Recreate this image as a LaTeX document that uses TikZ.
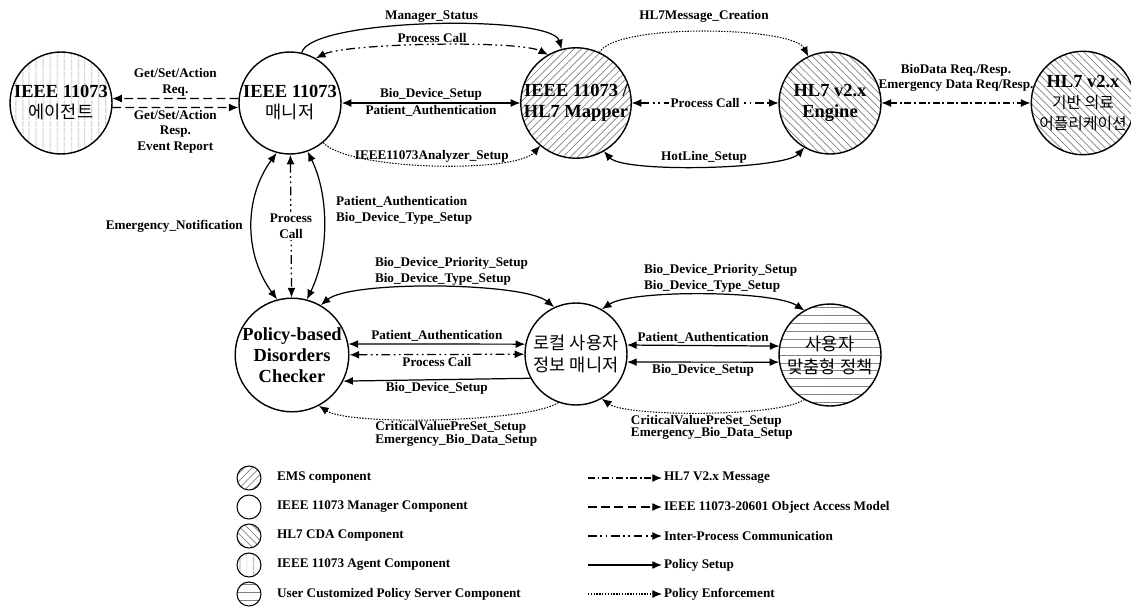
\documentclass[tikz,border=0pt]{standalone}
\usepackage{fontspec}
\setmainfont{Liberation Serif}
\newfontfamily\kr{Noto Sans CJK KR}
\usetikzlibrary{arrows.meta,patterns.meta}

\tikzset{
    comp/.style={draw, circle, line width=0.8pt, minimum size=2.04cm, inner sep=0pt, align=center, font=\bfseries\fontsize{10.5}{12}\selectfont},
    ems/.style={comp, pattern={Lines[angle=45,distance=3pt,line width=0.4pt]}, pattern color=gray},
    cda/.style={comp, pattern={Lines[angle=-45,distance=3pt,line width=0.4pt]}, pattern color=gray},
    agentpat/.style={comp, pattern={Lines[angle=90,distance=4pt,line width=0.4pt]}, pattern color=gray},
    userpat/.style={comp, pattern={Lines[angle=0,distance=4.5pt,line width=0.4pt]}, pattern color=gray},
    krtext/.style={font=\kr\fontsize{10}{13}\selectfont},
    lgd/.style={minimum size=0.48cm, line width=0.6pt},
    lbl/.style={font=\bfseries\fontsize{7.5}{9}\selectfont, inner sep=1pt, align=center},
    lbltight/.style={font=\bfseries\fontsize{7.5}{7.2}\selectfont, inner sep=1pt, align=left},
    onehead/.style={-{Latex[length=5.5pt,width=4.5pt]}},
    twohead/.style={{Latex[length=5.5pt,width=4.5pt]}-{Latex[length=5.5pt,width=4.5pt]}},
    setupline/.style={line width=0.7pt},
    oam/.style={line width=0.7pt, dash pattern=on 5pt off 2.5pt},
    hlmsg/.style={line width=0.7pt, dash pattern=on 4pt off 1.5pt on 1pt off 1.5pt},
    ipc/.style={line width=0.7pt, dash pattern=on 5pt off 2pt on 1pt off 2pt on 1pt off 2pt},
    enforce/.style={line width=0.6pt, dash pattern=on 0.8pt off 0.8pt}
}

\begin{document}
\begin{tikzpicture}[x=0.02cm, y=-0.02cm]
    \useasboundingbox (0,0) rectangle (1131,608);

    % Top row of components
    \node[agentpat] (agent) at (61,103) {IEEE 11073\\{\kr\mdseries\fontsize{10}{12}\selectfont 에이전트}};
    \node[comp] (mgr) at (290,103) {IEEE 11073\\{\kr\mdseries\fontsize{10}{12}\selectfont 매니저}};
    \node[ems] (mapper) at (576,103) {IEEE 11073 /\\HL7 Mapper};
    \node[cda] (engine) at (830,103) {HL7 v2.x\\Engine};
    \node[cda] (app) at (1083,103) {HL7 v2.x\\{\kr\mdseries\fontsize{9}{10.5}\selectfont 기반 의료}\\{\kr\mdseries\fontsize{9}{10.5}\selectfont 어플리케이션}};

    % Bottom row of components
    \node[comp] (checker) at (292,355) {Policy-based\\Disorders\\Checker};
    \node[comp, krtext] (local) at (576,354) {로컬 사용자\\정보 매니저};
    \node[userpat, krtext] (policy) at (830,355) {사용자\\맞춤형 정책};

    % Agent <-> manager
    \draw[oam, onehead] (mgr.175) -- node[lbl, above] {Get/Set/Action\\Req.} (agent.5);
    \draw[oam, onehead] (agent.-5) -- node[lbl, below] {Get/Set/Action\\Resp.\\Event Report} (mgr.185);

    % Manager <-> mapper
    \draw[setupline, onehead] (mgr.77) .. controls +(10,-35) and +(-10,-35) .. node[lbl, above] {Manager\_Status} (mapper.105);
    \draw[ipc, twohead] (mgr.60) .. controls +(30,-15) and +(-30,-15) .. node[lbl, above] {Process Call} (mapper.120);
    \draw[setupline, twohead] (mgr) -- node[lbl, above] {Bio\_Device\_Setup} node[lbl, below] {Patient\_Authentication} (mapper);
    \draw[enforce, onehead] (mgr.-50) .. controls +(25,28) and +(-25,28) .. node[lbl, above] {IEEE11073Analyzer\_Setup} (mapper.-130);

    % Mapper <-> engine
    \draw[enforce, onehead] (mapper.65) .. controls +(15,-30) and +(-15,-30) .. node[lbl, above=4pt] {HL7Message\_Creation} (engine.115);
    \draw[ipc, twohead] (mapper) -- node[lbl, fill=white] {Process Call} (engine);
    \draw[setupline, twohead] (mapper.-60) .. controls +(20,22) and +(-20,22) .. node[lbl, above] {HotLine\_Setup} (engine.-120);

    % Engine <-> application
    \draw[hlmsg, twohead] (engine) -- node[lbl, above=5pt] {BioData Req./Resp.\\Emergency Data Req/Resp.} (app);

    % Manager <-> checker
    \draw[setupline, twohead] (mgr.-105) .. controls +(-33,45) and +(-33,-45) .. node[lbl, left=4pt] {Emergency\_Notification} (checker.105);
    \draw[ipc, twohead] (mgr) -- node[lbl, fill=white] {Process\\Call} (checker);
    \draw[setupline, twohead] (mgr.-70) .. controls +(22,45) and +(22,-45) .. node[lbl, pos=0.4, right=6pt, align=left] {Patient\_Authentication\\Bio\_Device\_Type\_Setup} (checker.75);

    % Checker <-> local manager
    \draw[setupline, twohead] (checker.60) .. controls +(30,-25) and +(-30,-25) .. node[lbl, above, align=left, xshift=8pt] {Bio\_Device\_Priority\_Setup\\Bio\_Device\_Type\_Setup} (local.115);
    \draw[setupline, twohead] (checker.11) -- node[lbl, above] {Patient\_Authentication} (local.169);
    \draw[ipc, twohead] (checker) -- node[lbl, below] {Process Call} (local);
    \draw[setupline, onehead] (local.-152) -- node[lbl, below] {Bio\_Device\_Setup} (checker.-27);
    \draw[enforce, onehead] (local.-110) .. controls +(-30,20) and +(30,20) .. node[lbltight, below, xshift=10pt] {CriticalValuePreSet\_Setup\\Emergency\_Bio\_Data\_Setup} (checker.-62);

    % Local manager <-> user policy
    \draw[setupline, twohead] (local.60) .. controls +(30,-20) and +(-30,-20) .. node[lbl, above, align=left, xshift=10pt] {Bio\_Device\_Priority\_Setup\\Bio\_Device\_Type\_Setup} (policy.120);
    \draw[setupline, twohead] (local.10) -- node[lbl, above] {Patient\_Authentication} (policy.170);
    \draw[setupline, twohead] (local.-9) -- node[lbl, below] {Bio\_Device\_Setup} (policy.188);
    \draw[enforce, onehead] (policy.-120) .. controls +(-25,18) and +(25,18) .. node[lbltight, below, xshift=5pt] {CriticalValuePreSet\_Setup\\Emergency\_Bio\_Data\_Setup} (local.-60);

    % Legend: components
    \node[ems, lgd] (lgems) at (249,478) {};
    \node[comp, lgd] (lgmgr) at (249,507) {};
    \node[cda, lgd] (lgcda) at (249,536) {};
    \node[agentpat, lgd] (lgagent) at (249,565) {};
    \node[userpat, lgd] (lguser) at (249,594) {};
    \node[lbl, anchor=west] (lgemstxt) at (275,478) {EMS component};
    \node[lbl, anchor=west] (lgmgrtxt) at (275,507) {IEEE 11073 Manager Component};
    \node[lbl, anchor=west] (lgcdatxt) at (275,536) {HL7 CDA Component};
    \node[lbl, anchor=west] (lgagenttxt) at (275,565) {IEEE 11073 Agent Component};
    \node[lbl, anchor=west] (lgusertxt) at (275,594) {User Customized Policy Server Component};

    % Legend: connectors
    \coordinate (lm1) at (588,478); \coordinate (lm2) at (588,507); \coordinate (lm3) at (588,536);
    \coordinate (lm4) at (588,565); \coordinate (lm5) at (588,594);
    \node[lbl, anchor=west] (lghl) at (662,478) {HL7 V2.x Message};
    \node[lbl, anchor=west] (lgoam) at (662,507) {IEEE 11073-20601 Object Access Model};
    \node[lbl, anchor=west] (lgipc) at (662,536) {Inter-Process Communication};
    \node[lbl, anchor=west] (lgset) at (662,565) {Policy Setup};
    \node[lbl, anchor=west] (lgenf) at (662,594) {Policy Enforcement};
    \draw[hlmsg, onehead] (lm1) -- (lghl.west);
    \draw[oam, onehead] (lm2) -- (lgoam.west);
    \draw[ipc, onehead] (lm3) -- (lgipc.west);
    \draw[setupline, onehead] (lm4) -- (lgset.west);
    \draw[enforce, onehead] (lm5) -- (lgenf.west);
\end{tikzpicture}
\end{document}
